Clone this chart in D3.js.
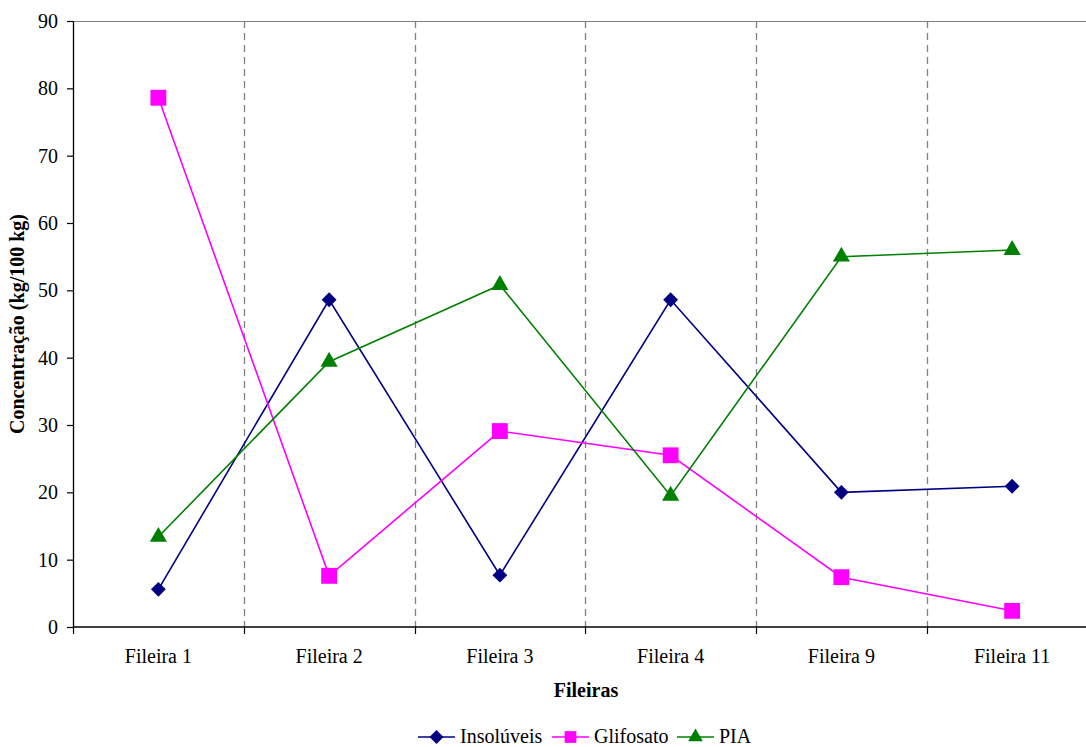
<!DOCTYPE html>
<html>
<head>
<meta charset="utf-8">
<script src="https://cdn.jsdelivr.net/npm/d3@7"></script>
<style>
  html, body { margin: 0; padding: 0; background: #fff; }
  svg { display: block; font-family: "Liberation Serif", "Times New Roman", serif; }
</style>
</head>
<body>
<svg id="chart" width="1086" height="747"></svg>
<script>
// Row categories and measured concentrations (kg/100 kg)
const categories = ["Fileira 1", "Fileira 2", "Fileira 3", "Fileira 4", "Fileira 9", "Fileira 11"];
const insoluveis = [5.6, 48.6, 7.7, 48.6, 20.0, 20.9];
const glifosato  = [78.6, 7.6, 29.1, 25.5, 7.4, 2.4];
const pia        = [13.4, 39.4, 50.8, 19.5, 55.0, 56.0];
const yTicks = [0, 10, 20, 30, 40, 50, 60, 70, 80, 90];

const seriesList = [
  { name: "Insolúveis", values: insoluveis, color: "#000080", symbol: d3.symbolDiamond2, size: 140, legendSize: 125 },
  { name: "Glifosato",  values: glifosato,  color: "#FF00FF", symbol: d3.symbolSquare2,  size: 320, legendSize: 175 },
  { name: "PIA",        values: pia,        color: "#008000", symbol: d3.symbolTriangle2, size: 210, legendSize: 155 }
];

const FONT = 20;
const svg = d3.select("#chart");
const margin = { left: 73, top: 21, right: 1097.5, bottom: 627 };

const x = d3.scaleBand().domain(categories).range([margin.left, margin.right]);
const y = d3.scaleLinear().domain([0, 90]).range([margin.bottom, margin.top]);

// Plot-area border (top edge visible)
svg.append("line")
  .attr("x1", margin.left).attr("x2", margin.right)
  .attr("y1", margin.top + 0.5).attr("y2", margin.top + 0.5)
  .attr("stroke", "#808080").attr("stroke-width", 1);

// Dashed vertical gridlines between categories
svg.append("g").selectAll("line")
  .data(categories.slice(1))
  .join("line")
  .attr("x1", d => Math.round(x(d)) + 0.5)
  .attr("x2", d => Math.round(x(d)) + 0.5)
  .attr("y1", margin.top)
  .attr("y2", margin.bottom)
  .attr("stroke", "#808080")
  .attr("stroke-width", 1.3)
  .attr("stroke-dasharray", "7,5");

// Y axis
const yAxis = svg.append("g")
  .attr("transform", `translate(${margin.left},0)`)
  .call(d3.axisLeft(y).tickValues(yTicks).tickSize(6).tickPadding(9).tickSizeOuter(0));
yAxis.attr("font-family", null).attr("font-size", null);
yAxis.select(".domain").attr("stroke", "#000").attr("stroke-width", 1.3);
yAxis.selectAll(".tick line").attr("stroke", "#000").attr("stroke-width", 1.2);
yAxis.selectAll(".tick text")
  .attr("font-size", FONT).attr("fill", "#000");

// X axis: baseline, boundary ticks and centered labels
const xAxisG = svg.append("g");
xAxisG.append("line")
  .attr("x1", margin.left).attr("x2", margin.right)
  .attr("y1", margin.bottom).attr("y2", margin.bottom)
  .attr("stroke", "#000").attr("stroke-width", 1.3);
const boundaries = categories.map(c => x(c)).concat([x(categories[categories.length - 1]) + x.bandwidth()]);
xAxisG.selectAll("line.tk")
  .data(boundaries)
  .join("line")
  .attr("class", "tk")
  .attr("x1", d => Math.round(d) + 0.5).attr("x2", d => Math.round(d) + 0.5)
  .attr("y1", margin.bottom).attr("y2", margin.bottom + 7)
  .attr("stroke", "#000").attr("stroke-width", 1.2);
xAxisG.selectAll("text")
  .data(categories)
  .join("text")
  .attr("x", d => x(d) + x.bandwidth() / 2)
  .attr("y", 663)
  .attr("text-anchor", "middle")
  .attr("font-size", FONT)
  .text(d => d);

// Axis titles
svg.append("text")
  .attr("transform", "translate(24,324) rotate(-90)")
  .attr("text-anchor", "middle")
  .attr("font-size", FONT).attr("font-weight", "bold")
  .text("Concentração (kg/100 kg)");
svg.append("text")
  .attr("x", 586).attr("y", 697)
  .attr("text-anchor", "middle")
  .attr("font-size", FONT).attr("font-weight", "bold")
  .text("Fileiras");

// Series lines and markers
const line = d3.line()
  .x((d, i) => x(categories[i]) + x.bandwidth() / 2)
  .y(d => y(d));

seriesList.forEach(s => {
  const g = svg.append("g");
  g.append("path")
    .datum(s.values)
    .attr("d", line)
    .attr("fill", "none")
    .attr("stroke", s.color)
    .attr("stroke-width", 1.6);
  g.selectAll("path.m")
    .data(s.values)
    .join("path")
    .attr("class", "m")
    .attr("d", d3.symbol().type(s.symbol).size(s.size))
    .attr("transform", (d, i) => `translate(${x(categories[i]) + x.bandwidth() / 2},${y(d)})`)
    .attr("fill", s.color);
});

// Legend
const legendItems = [
  { s: seriesList[0], x0: 418 },
  { s: seriesList[1], x0: 552 },
  { s: seriesList[2], x0: 677 }
];
const ly = 737;
legendItems.forEach(({ s, x0 }) => {
  const g = svg.append("g");
  g.append("line")
    .attr("x1", x0).attr("x2", x0 + 37)
    .attr("y1", ly).attr("y2", ly)
    .attr("stroke", s.color).attr("stroke-width", 1.6);
  g.append("path")
    .attr("d", d3.symbol().type(s.symbol).size(s.legendSize))
    .attr("transform", `translate(${x0 + 18.5},${ly})`)
    .attr("fill", s.color);
  g.append("text")
    .attr("x", x0 + 42).attr("y", ly + 6)
    .attr("font-size", FONT)
    .text(s.name);
});
</script>
</body>
</html>
